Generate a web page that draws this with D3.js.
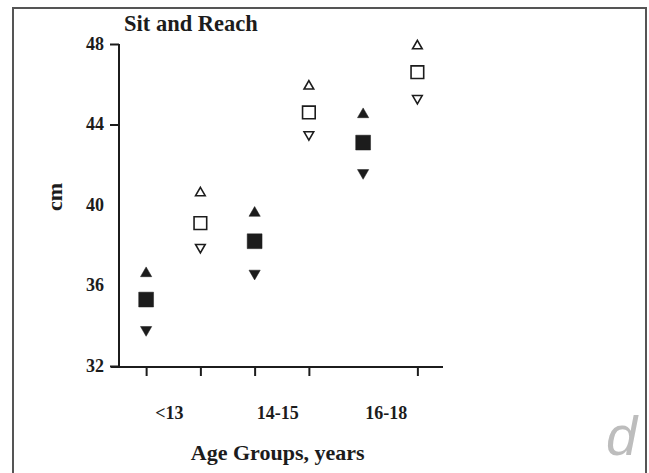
<!DOCTYPE html>
<html>
<head>
<meta charset="utf-8">
<script src="https://cdn.jsdelivr.net/npm/d3@7"></script>
<style>
  body { margin: 0; background: #fff; }
  text { font-family: "Liberation Serif", "Times New Roman", serif; font-weight: bold; fill: #1c1c1c; }
</style>
</head>
<body>
<svg id="chart" width="649" height="473"></svg>
<script>
// age groups on the x axis, two series per group (filled / open markers)
const groups = ["<13", "14-15", "16-18"];
const series = ["filled", "open"];

// mean and upper / lower bounds (cm)
const filledMean = [35.3, 38.2, 43.1];
const filledUpper = [36.6, 39.6, 44.5];
const filledLower = [33.8, 36.6, 41.6];
const openMean = [39.1, 44.6, 46.6];
const openUpper = [40.6, 45.9, 47.9];
const openLower = [37.9, 43.5, 45.3];

const yTicks = [32, 36, 40, 44, 48];
const yTicksNoLine = [36, 40]; // these ticks are not drawn in the original
const hiddenXTick = "16-18|filled";

const svg = d3.select('#chart');

// frame round the figure
svg.append('rect')
  .attr('x', 13).attr('y', 8)
  .attr('width', 633).attr('height', 480)
  .attr('fill', 'none')
  .attr('stroke', '#555')
  .attr('stroke-width', 2);

const plotLeft = 119;
const plotRight = 444.5;
const plotTop = 44;
const plotBottom = 366;

const y = d3.scaleLinear()
  .domain([32, 48])
  .range([plotBottom, plotTop]);

const x0 = d3.scaleBand()
  .domain(groups)
  .range([plotLeft, plotRight]);

const keys = [];
groups.forEach(g => series.forEach(s => keys.push(g + '|' + s)));

const xPos = d3.scalePoint()
  .domain(keys)
  .range([plotLeft, plotRight])
  .padding(0.5);

// y axis
const yAxis = svg.append('g')
  .attr('transform', `translate(${plotLeft}, 0)`)
  .call(d3.axisLeft(y).tickValues(yTicks).tickSize(9).tickPadding(6));

yAxis.select('.domain').remove();
yAxis.selectAll('.tick')
  .filter(d => yTicksNoLine.includes(d))
  .select('line').remove();
yAxis.selectAll('.tick text')
  .style('font-size', '18px')
  .attr('font-family', null)
  .attr('dy', '0.3em');
yAxis.selectAll('line').attr('stroke', '#1c1c1c').attr('stroke-width', 2);

svg.append('line')
  .attr('x1', plotLeft).attr('x2', plotLeft)
  .attr('y1', y(48)).attr('y2', y(32) + 1)
  .attr('stroke', '#1c1c1c')
  .attr('stroke-width', 2);

// x axis
const xAxis = svg.append('g')
  .attr('transform', `translate(0, ${y(32) + 1})`)
  .call(d3.axisBottom(xPos).tickSize(9).tickSizeOuter(0).tickFormat(''));

xAxis.select('.domain').remove();
xAxis.selectAll('.tick')
  .filter(d => d === hiddenXTick)
  .remove();
xAxis.selectAll('line').attr('stroke', '#1c1c1c').attr('stroke-width', 2);

svg.append('line')
  .attr('x1', plotLeft - 8).attr('x2', plotRight - 1.5)
  .attr('y1', y(32) + 1).attr('y2', y(32) + 1)
  .attr('stroke', '#1c1c1c')
  .attr('stroke-width', 2);

const groupLabels = svg.append('g')
  .attr('transform', `translate(-4, ${y(32) + 1})`)
  .call(d3.axisBottom(x0).tickSize(0).tickPadding(39));
groupLabels.select('.domain').remove();
groupLabels.selectAll('text')
  .style('font-size', '18px')
  .attr('font-family', null);

// titles
svg.append('text')
  .text('Sit and Reach')
  .attr('x', 124)
  .attr('y', 31)
  .style('font-size', '22.5px');

svg.append('text')
  .text('Age Groups, years')
  .attr('x', (plotLeft - 8 + plotRight) / 2)
  .attr('y', 460)
  .attr('text-anchor', 'middle')
  .style('font-size', '22px');

svg.append('text')
  .text('cm')
  .attr('transform', 'translate(62, 197) rotate(-90)')
  .attr('text-anchor', 'middle')
  .style('font-size', '22px');

// panel letter
svg.append('text')
  .text('d')
  .attr('x', 606)
  .attr('y', 455)
  .style('font-family', '"Liberation Sans", Arial, sans-serif')
  .style('font-weight', 'normal')
  .style('font-style', 'italic')
  .style('font-size', '56px')
  .style('fill', '#bdbdbd');

// markers
const points = [];
groups.forEach((g, i) => {
  points.push({ key: g + '|filled', kind: 'up', value: filledUpper[i], filled: true });
  points.push({ key: g + '|filled', kind: 'mean', value: filledMean[i], filled: true });
  points.push({ key: g + '|filled', kind: 'down', value: filledLower[i], filled: true });
  points.push({ key: g + '|open', kind: 'up', value: openUpper[i], filled: false });
  points.push({ key: g + '|open', kind: 'mean', value: openMean[i], filled: false });
  points.push({ key: g + '|open', kind: 'down', value: openLower[i], filled: false });
});

const symbolFor = (d) => {
  if (d.kind === 'mean') {
    return d3.symbol().type(d3.symbolSquare).size(d.filled ? 220 : 160)();
  }
  return d3.symbol().type(d3.symbolTriangle).size(d.filled ? 55 : 40)();
};

svg.append('g')
  .selectAll('path')
  .data(points)
  .enter()
  .append('path')
  .attr('d', symbolFor)
  .attr('transform', d => `translate(${xPos(d.key)}, ${y(d.value)})${d.kind === 'down' ? ' rotate(180)' : ''}`)
  .attr('fill', d => d.filled ? '#1c1c1c' : '#fff')
  .attr('stroke', '#1c1c1c')
  .attr('stroke-width', d => d.filled ? 0.5 : 1.6);
</script>
</body>
</html>
